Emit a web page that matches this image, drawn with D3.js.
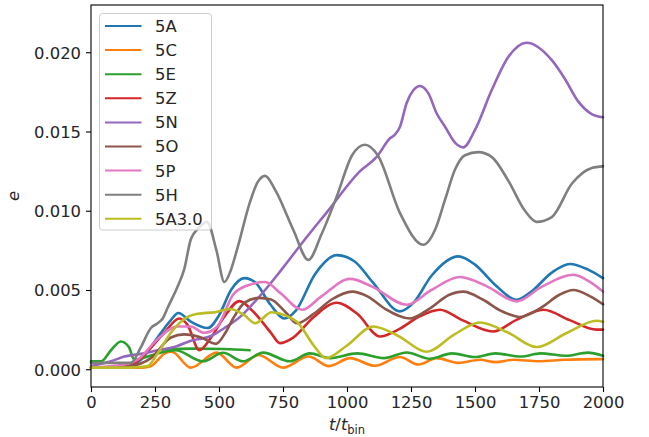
<!DOCTYPE html>
<html>
<head>
<meta charset="utf-8">
<script src="https://cdn.jsdelivr.net/npm/d3@7"></script>
<style>
  body { margin: 0; background: #fff; }
  svg { display: block; font-family: "DejaVu Sans", sans-serif; }
</style>
</head>
<body>
<svg id="chart" width="649" height="437"></svg>
<script>
// ---- data (t / t_bin, e) ----
const seriesNames = ["5A", "5C", "5E", "5Z", "5N", "5O", "5P", "5H", "5A3.0"];
const seriesColors = ["#1f77b4", "#ff7f0e", "#2ca02c", "#d62728", "#9467bd", "#8c564b", "#e377c2", "#7f7f7f", "#bcbd22"];

const s5A = [[0,0.0001],[100,0.0001],[150,0.0002],[195,0.0006],[260,0.002],[312,0.0031],[341,0.00355],[390,0.003],[456,0.0026],[500,0.0034],[547,0.005],[599,0.00575],[640,0.0055],[700,0.0041],[755,0.0032],[800,0.0037],[875,0.006],[960,0.0072],[1030,0.0068],[1100,0.0055],[1207,0.00365],[1260,0.0042],[1330,0.0059],[1435,0.00712],[1500,0.0066],[1580,0.0053],[1663,0.00438],[1720,0.0049],[1800,0.0061],[1871,0.00664],[1940,0.0063],[2000,0.00575]];
const s5C = [[0,0.0001],[100,0.0001],[200,0.0001],[234,0.0002],[289,0.001],[315,0.0011],[390,0.0001],[491,0.00105],[569,0.0001],[655,0.0009],[750,0.0001],[850,0.0008],[930,0.0002],[1012,0.0007],[1109,0.00022],[1207,0.00077],[1279,0.0003],[1350,0.0007],[1435,0.0004],[1520,0.0006],[1580,0.00045],[1650,0.0006],[1750,0.0005],[1850,0.0006],[2000,0.00064]];
const s5E = [[0,0.0005],[40,0.0005],[78,0.0012],[117,0.00175],[148,0.0014],[169,0.0006],[200,0.0007],[260,0.001],[330,0.0012],[438,0.0005],[516,0.00104],[594,0.0005],[672,0.00105],[777,0.0005],[855,0.001],[934,0.0007],[1040,0.001],[1145,0.0007],[1233,0.00106],[1324,0.00066],[1410,0.001],[1500,0.00077],[1580,0.001],[1680,0.0008],[1755,0.001],[1855,0.00085],[1940,0.00105],[2000,0.00085]];
const s5Eflat = [[280,0.00125],[400,0.0013],[520,0.00128],[620,0.0012]];
const s5Z = [[0,0.0001],[150,0.0002],[195,0.0007],[286,0.0023],[345,0.0032],[377,0.0028],[423,0.0012],[469,0.002],[520,0.0033],[580,0.0043],[630,0.0037],[703,0.0023],[738,0.00165],[790,0.002],[870,0.0033],[960,0.0042],[1040,0.0035],[1129,0.00207],[1200,0.0025],[1280,0.0033],[1363,0.00375],[1450,0.0031],[1571,0.00238],[1660,0.0031],[1767,0.00375],[1870,0.0031],[1975,0.0025],[2000,0.0025]];
const s5N = [[0,0.0002],[78,0.0005],[130,0.0008],[208,0.001],[260,0.0012],[325,0.0014],[390,0.0018],[469,0.0021],[521,0.0026],[589,0.0034],[625,0.004],[680,0.005],[745,0.0063],[836,0.0082],[921,0.0099],[1051,0.0125],[1116,0.0134],[1168,0.01457],[1187,0.0148],[1207,0.0153],[1233,0.0168],[1259,0.0176],[1285,0.01787],[1318,0.0174],[1350,0.01615],[1383,0.0153],[1422,0.0143],[1454,0.014],[1500,0.0151],[1565,0.0176],[1630,0.0197],[1702,0.0206],[1800,0.0195],[1852,0.0183],[1903,0.0169],[1956,0.0161],[2000,0.0159]];
const s5O = [[0,0.0001],[150,0.0002],[234,0.0007],[312,0.002],[364,0.0022],[430,0.002],[488,0.0016],[525,0.0023],[555,0.0032],[600,0.0042],[655,0.0045],[703,0.0044],[760,0.0036],[805,0.0029],[870,0.0035],[940,0.0044],[1020,0.0049],[1080,0.0046],[1150,0.0038],[1246,0.0032],[1320,0.0038],[1400,0.0047],[1454,0.0049],[1530,0.0044],[1600,0.0037],[1676,0.0033],[1760,0.0039],[1830,0.0047],[1884,0.005],[1950,0.0046],[2000,0.0041]];
const s5P = [[0,0.0001],[130,0.0003],[182,0.0006],[260,0.0019],[338,0.0027],[390,0.0027],[441,0.0023],[494,0.0027],[555,0.0047],[614,0.0053],[680,0.0055],[740,0.0048],[825,0.00375],[900,0.0046],[1012,0.0057],[1100,0.0052],[1233,0.00407],[1330,0.005],[1441,0.00582],[1550,0.0052],[1663,0.00428],[1760,0.0052],[1884,0.00596],[1950,0.0055],[2000,0.0049]];
const s5H = [[0,0.0004],[100,0.0004],[156,0.0004],[195,0.0014],[234,0.0026],[260,0.0029],[280,0.0032],[300,0.0039],[338,0.0052],[364,0.0063],[390,0.0082],[420,0.0089],[453,0.0093],[490,0.0075],[521,0.0055],[545,0.0062],[573,0.0077],[620,0.0105],[651,0.0118],[680,0.0122],[720,0.0113],[790,0.0088],[849,0.0069],[900,0.0085],[960,0.0109],[1020,0.0135],[1070,0.01416],[1120,0.0135],[1207,0.00985],[1298,0.00785],[1344,0.0088],[1383,0.0107],[1422,0.0126],[1461,0.0135],[1513,0.0137],[1565,0.0134],[1630,0.0119],[1695,0.01],[1741,0.0093],[1800,0.0096],[1878,0.0117],[1956,0.0127],[2000,0.0128]];
const s5A30 = [[0,0.0001],[150,0.0001],[221,0.0002],[260,0.001],[312,0.0023],[377,0.0033],[417,0.0035],[484,0.0036],[543,0.0038],[600,0.0034],[641,0.0029],[706,0.0036],[740,0.0035],[810,0.0029],[870,0.0015],[917,0.0007],[1000,0.0015],[1103,0.0027],[1200,0.0021],[1311,0.0011],[1420,0.0022],[1519,0.00295],[1630,0.0023],[1741,0.0014],[1860,0.0023],[1975,0.00306],[2000,0.003]];

const seriesData = [s5A, s5C, s5E, s5Z, s5N, s5O, s5P, s5H, s5A30];
const xTicks = [0, 250, 500, 750, 1000, 1250, 1500, 1750, 2000];
const yTicks = [0, 0.005, 0.010, 0.015, 0.020];

// ---- layout ----
const svg = d3.select("#chart");
const L = 91, R = 603, T = 5, B = 387;
const x = d3.scaleLinear().domain([0, 2000]).range([L, R]);
const y = d3.scaleLinear().domain([-0.00112, 0.02298]).range([B, T]);
const fs = 16.4;

const line = d3.line().x(d => x(d[0])).y(d => y(d[1])).curve(d3.curveMonotoneX);

const plot = svg.append("g");
seriesData.forEach((s, i) => {
  plot.append("path").datum(s).attr("d", line)
    .attr("fill", "none").attr("stroke", seriesColors[i])
    .attr("stroke-width", 2.6).attr("stroke-linejoin", "round").attr("stroke-linecap", "round");
  if (i === 2) {
    plot.append("path").datum(s5Eflat).attr("d", line)
      .attr("fill", "none").attr("stroke", seriesColors[2])
      .attr("stroke-width", 2.6).attr("stroke-linecap", "round");
  }
});

// axes
const xAxis = d3.axisBottom(x).tickValues(xTicks).tickSize(5).tickPadding(4).tickFormat(d3.format("d"));
const yAxis = d3.axisLeft(y).tickValues(yTicks).tickSize(5).tickPadding(5).tickFormat(d3.format(".3f"));
const gx = svg.append("g").attr("transform", `translate(0,${B})`).call(xAxis);
const gy = svg.append("g").attr("transform", `translate(${L},0)`).call(yAxis);
[gx, gy].forEach(g => {
  g.select(".domain").remove();
  g.selectAll(".tick line").attr("stroke", "#000").attr("stroke-width", 1.1);
  g.selectAll(".tick text").attr("fill", "#262626").style("font-size", fs + "px").style("font-family", "DejaVu Sans");
});
gx.selectAll(".tick text").attr("dy", "0.72em");
gy.selectAll(".tick text").attr("dy", "0.36em");

// frame
svg.append("rect").attr("x", L).attr("y", T).attr("width", R - L).attr("height", B - T)
  .attr("fill", "none").attr("stroke", "#000").attr("stroke-width", 1.1);

// axis labels
const xl = svg.append("text").attr("x", (L + R) / 2).attr("y", 430).attr("text-anchor", "middle")
  .style("font-size", fs + "px").attr("fill", "#262626");
xl.append("tspan").text("t").style("font-style", "italic");
xl.append("tspan").text("/");
xl.append("tspan").text("t").style("font-style", "italic");
xl.append("tspan").text("bin").attr("dy", 3.5).style("font-size", (fs * 0.7) + "px");

svg.append("text").attr("transform", `translate(18.5,${(T + B) / 2}) rotate(-90)`)
  .attr("text-anchor", "middle").style("font-size", fs + "px").style("font-style", "italic")
  .attr("fill", "#262626").text("e");

// legend
const lg = svg.append("g");
lg.append("rect").attr("x", 99.5).attr("y", 13.5).attr("width", 112).attr("height", 216.5)
  .attr("rx", 3).attr("fill", "#fff").attr("fill-opacity", 0.8).attr("stroke", "#cccccc").attr("stroke-width", 1);
seriesNames.forEach((n, i) => {
  const yy = 26 + i * 24.1;
  lg.append("line").attr("x1", 105).attr("x2", 141.5).attr("y1", yy).attr("y2", yy)
    .attr("stroke", seriesColors[i]).attr("stroke-width", 2);
  lg.append("text").attr("x", 155).attr("y", yy).attr("dy", "0.36em")
    .style("font-size", fs + "px").attr("fill", "#262626").text(n);
});
</script>
</body>
</html>
